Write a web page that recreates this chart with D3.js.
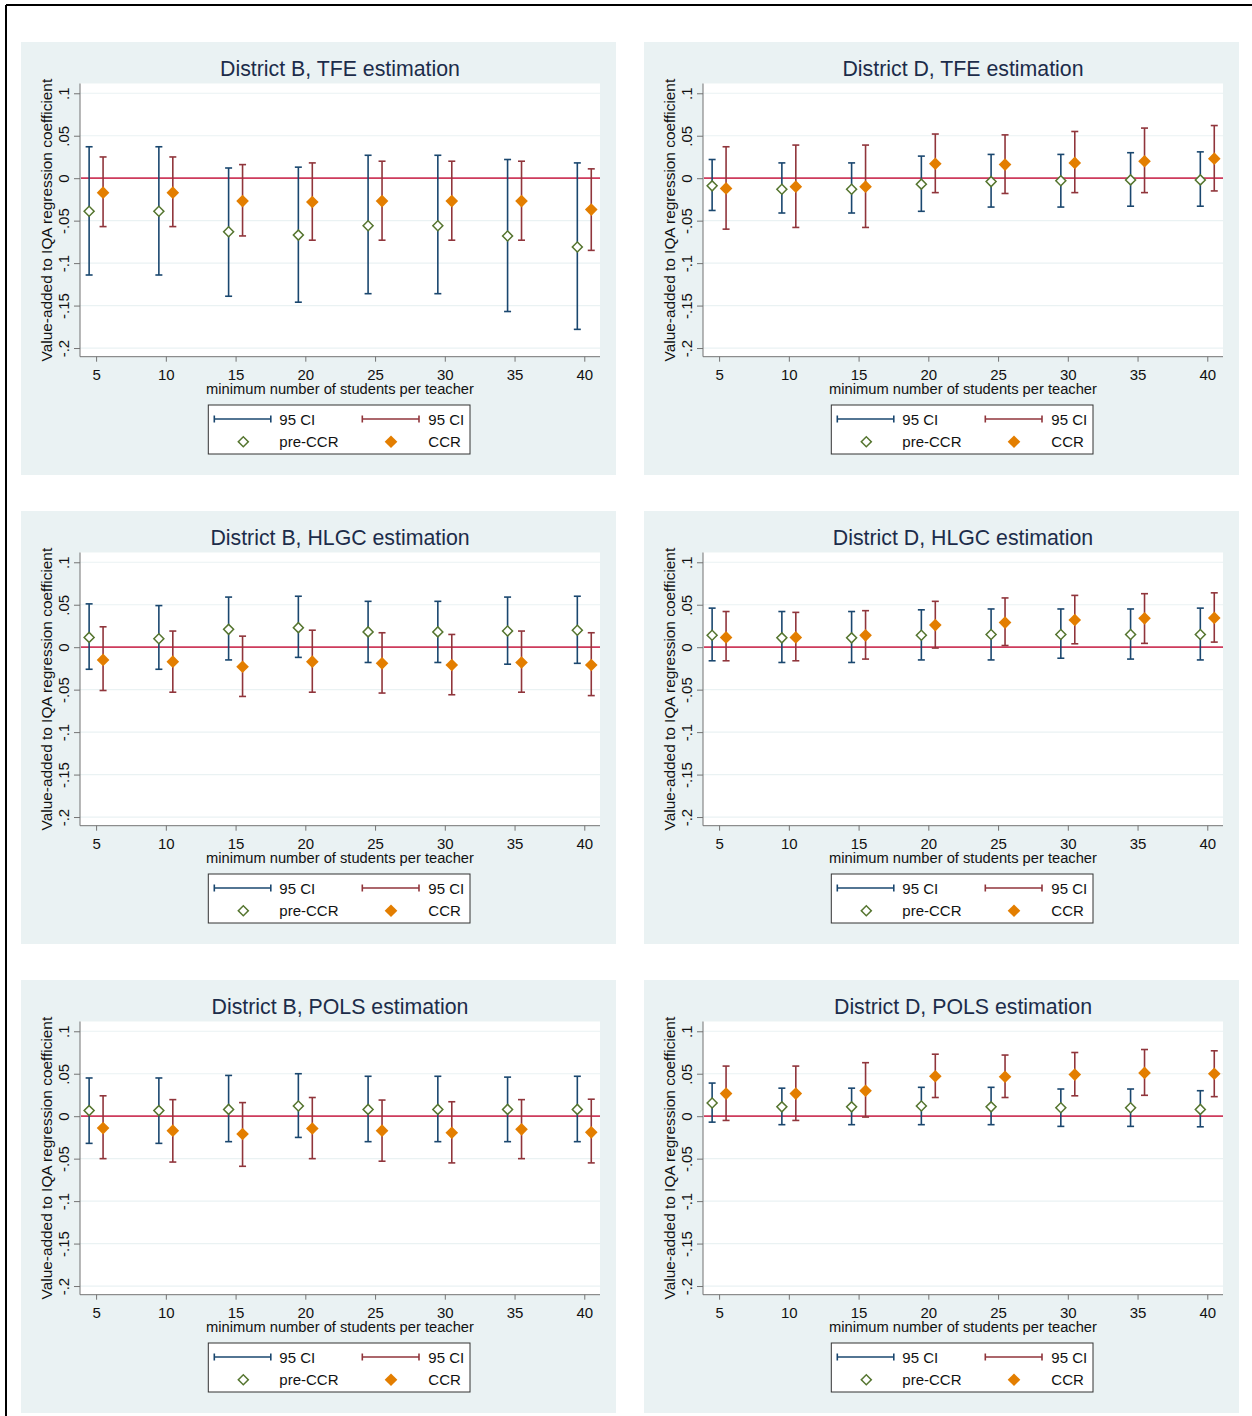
<!DOCTYPE html>
<html>
<head>
<meta charset="utf-8">
<script src="https://cdn.jsdelivr.net/npm/d3@7/dist/d3.min.js"></script>
<style>
	body { margin: 0; background: #ffffff; }
	svg { display: block; font-family: "Liberation Sans", Arial, sans-serif; }
</style>
</head>
<body>
<svg id="chart" width="1252" height="1416"></svg>
<script>
// x categories and axis ticks
var minStudents = [5, 10, 15, 20, 25, 30, 35, 40];
var yTickValues = [-0.2, -0.15, -0.1, -0.05, 0, 0.05, 0.1];
var yTickLabels = ["-.2", "-.15", "-.1", "-.05", "0", ".05", ".1"];

// District B, TFE
var bTfePreEst = [-0.039, -0.039, -0.063, -0.067, -0.056, -0.056, -0.068, -0.081];
var bTfePreLo  = [-0.114, -0.114, -0.139, -0.146, -0.136, -0.136, -0.157, -0.178];
var bTfePreHi  = [0.037, 0.037, 0.012, 0.013, 0.027, 0.027, 0.022, 0.018];
var bTfeCcrEst = [-0.017, -0.017, -0.027, -0.028, -0.027, -0.027, -0.027, -0.037];
var bTfeCcrLo  = [-0.057, -0.057, -0.068, -0.073, -0.073, -0.073, -0.073, -0.085];
var bTfeCcrHi  = [0.025, 0.025, 0.016, 0.018, 0.020, 0.020, 0.020, 0.011];

// District D, TFE
var dTfePreEst = [-0.009, -0.013, -0.013, -0.007, -0.004, -0.003, -0.002, -0.002];
var dTfePreLo  = [-0.038, -0.041, -0.041, -0.039, -0.034, -0.034, -0.033, -0.033];
var dTfePreHi  = [0.022, 0.018, 0.018, 0.026, 0.028, 0.028, 0.030, 0.031];
var dTfeCcrEst = [-0.012, -0.010, -0.010, 0.017, 0.016, 0.018, 0.020, 0.023];
var dTfeCcrLo  = [-0.060, -0.058, -0.058, -0.017, -0.018, -0.017, -0.017, -0.015];
var dTfeCcrHi  = [0.037, 0.039, 0.039, 0.052, 0.051, 0.055, 0.059, 0.062];

// District B, HLGC
var bHlgcPreEst = [0.0115, 0.010, 0.021, 0.023, 0.018, 0.018, 0.019, 0.020];
var bHlgcPreLo  = [-0.026, -0.026, -0.015, -0.012, -0.018, -0.018, -0.020, -0.019];
var bHlgcPreHi  = [0.051, 0.049, 0.059, 0.060, 0.054, 0.054, 0.059, 0.060];
var bHlgcCcrEst = [-0.015, -0.017, -0.023, -0.017, -0.019, -0.021, -0.018, -0.021];
var bHlgcCcrLo  = [-0.051, -0.053, -0.058, -0.053, -0.054, -0.056, -0.053, -0.057];
var bHlgcCcrHi  = [0.024, 0.019, 0.013, 0.020, 0.017, 0.015, 0.019, 0.017];

// District D, HLGC
var dHlgcPreEst = [0.014, 0.011, 0.011, 0.014, 0.015, 0.015, 0.015, 0.015];
var dHlgcPreLo  = [-0.016, -0.018, -0.018, -0.015, -0.015, -0.013, -0.014, -0.015];
var dHlgcPreHi  = [0.046, 0.042, 0.042, 0.044, 0.045, 0.045, 0.045, 0.046];
var dHlgcCcrEst = [0.0115, 0.0115, 0.014, 0.026, 0.029, 0.032, 0.034, 0.0345];
var dHlgcCcrLo  = [-0.016, -0.016, -0.014, -0.001, 0.002, 0.004, 0.0045, 0.006];
var dHlgcCcrHi  = [0.042, 0.041, 0.043, 0.054, 0.058, 0.061, 0.063, 0.064];

// District B, POLS
var bPolsPreEst = [0.0066, 0.0066, 0.008, 0.012, 0.008, 0.008, 0.008, 0.008];
var bPolsPreLo  = [-0.032, -0.032, -0.030, -0.025, -0.030, -0.030, -0.030, -0.030];
var bPolsPreHi  = [0.045, 0.045, 0.048, 0.050, 0.047, 0.047, 0.046, 0.047];
var bPolsCcrEst = [-0.014, -0.017, -0.021, -0.0145, -0.017, -0.0195, -0.0155, -0.019];
var bPolsCcrLo  = [-0.050, -0.054, -0.059, -0.050, -0.053, -0.055, -0.050, -0.055];
var bPolsCcrHi  = [0.024, 0.0195, 0.016, 0.022, 0.019, 0.017, 0.0195, 0.020];

// District D, POLS
var dPolsPreEst = [0.0156, 0.011, 0.011, 0.012, 0.011, 0.010, 0.010, 0.008];
var dPolsPreLo  = [-0.007, -0.010, -0.010, -0.010, -0.010, -0.012, -0.012, -0.0125];
var dPolsPreHi  = [0.039, 0.033, 0.033, 0.034, 0.034, 0.032, 0.032, 0.030];
var dPolsCcrEst = [0.0266, 0.0266, 0.030, 0.047, 0.0465, 0.049, 0.051, 0.050];
var dPolsCcrLo  = [-0.005, -0.005, -0.001, 0.022, 0.022, 0.024, 0.0246, 0.023];
var dPolsCcrHi  = [0.059, 0.059, 0.063, 0.073, 0.072, 0.075, 0.0785, 0.077];

var panels = [
	{title: "District B, TFE estimation", pre: [bTfePreEst, bTfePreLo, bTfePreHi], ccr: [bTfeCcrEst, bTfeCcrLo, bTfeCcrHi]},
	{title: "District D, TFE estimation", pre: [dTfePreEst, dTfePreLo, dTfePreHi], ccr: [dTfeCcrEst, dTfeCcrLo, dTfeCcrHi]},
	{title: "District B, HLGC estimation", pre: [bHlgcPreEst, bHlgcPreLo, bHlgcPreHi], ccr: [bHlgcCcrEst, bHlgcCcrLo, bHlgcCcrHi]},
	{title: "District D, HLGC estimation", pre: [dHlgcPreEst, dHlgcPreLo, dHlgcPreHi], ccr: [dHlgcCcrEst, dHlgcCcrLo, dHlgcCcrHi]},
	{title: "District B, POLS estimation", pre: [bPolsPreEst, bPolsPreLo, bPolsPreHi], ccr: [bPolsCcrEst, bPolsCcrLo, bPolsCcrHi]},
	{title: "District D, POLS estimation", pre: [dPolsPreEst, dPolsPreLo, dPolsPreHi], ccr: [dPolsCcrEst, dPolsCcrLo, dPolsCcrHi]}
];

var colors = {
	bg: "#eaf2f3",
	title: "#1c2c4a",
	axis: "#737373",
	navy: "#1a476f",
	maroon: "#90353b",
	green: "#55752f",
	orange: "#e37e00",
	zero: "#cf3b5c"
};

var svg = d3.select("#chart");
var panelW = 595, panelH = 433;
var colX = [21, 644], rowY = [42, 511, 980];
var plot = {left: 59, right: 579, top: 41.5, bottom: 314.7};

// outer frame (top and left edges are what shows in the picture)
svg.append("line").attr("x1", 6).attr("y1", 5).attr("x2", 1252).attr("y2", 5)
	.attr("stroke", "#000").attr("stroke-width", 2);
svg.append("line").attr("x1", 6).attr("y1", 5).attr("x2", 6).attr("y2", 1416)
	.attr("stroke", "#000").attr("stroke-width", 2);

var x = d3.scaleLinear().domain([3.846, 41.126]).range([plot.left, plot.right]);
var y = d3.scaleLinear().domain([-0.2102, 0.1115]).range([plot.bottom, plot.top]);

var diamond = function(size){
	return d3.symbol().type(d3.symbolSquare).size(size)();
};

var drawCI = function(g, est, lo, hi, offset, lineColor, markerFill, markerStroke, markerSize){
	var gg = g.append("g");
	minStudents.forEach(function(v, i){
		var cx = x(v + offset);
		gg.append("line")
			.attr("x1", cx).attr("x2", cx)
			.attr("y1", y(lo[i])).attr("y2", y(hi[i]))
			.attr("stroke", lineColor).attr("stroke-width", 1.6);
		[lo[i], hi[i]].forEach(function(c){
			gg.append("line")
				.attr("x1", cx - 3.5).attr("x2", cx + 3.5)
				.attr("y1", y(c)).attr("y2", y(c))
				.attr("stroke", lineColor).attr("stroke-width", 1.6);
		});
	});
	gg.selectAll("path.mk")
		.data(est)
		.enter().append("path")
		.attr("class", "mk")
		.attr("d", diamond(markerSize))
		.attr("transform", function(d, i){ return "translate(" + x(minStudents[i] + offset) + "," + y(d) + ") rotate(45)"; })
		.attr("fill", markerFill)
		.attr("stroke", markerStroke)
		.attr("stroke-width", markerStroke == "none" ? 0 : 1.5);
};

var drawPanel = function(panel, px, py){
	var g = svg.append("g").attr("transform", "translate(" + px + "," + py + ")");

	g.append("rect").attr("width", panelW).attr("height", panelH).attr("fill", colors.bg);
	g.append("rect")
		.attr("x", plot.left).attr("y", plot.top)
		.attr("width", plot.right - plot.left).attr("height", plot.bottom - plot.top)
		.attr("fill", "#fff");

	// gridlines
	g.selectAll("line.grid")
		.data(yTickValues)
		.enter().append("line")
		.attr("class", "grid")
		.attr("x1", plot.left).attr("x2", plot.right)
		.attr("y1", function(d){ return y(d); }).attr("y2", function(d){ return y(d); })
		.attr("stroke", colors.bg).attr("stroke-width", 1.2);

	// y axis
	var yAxis = d3.axisLeft(y).tickValues(yTickValues).tickSize(6).tickPadding(4)
		.tickFormat(function(d, i){ return yTickLabels[i]; });
	var gY = g.append("g").attr("transform", "translate(" + plot.left + ",0)").call(yAxis);
	gY.select(".domain").attr("stroke", colors.axis).attr("d", "M0," + plot.top + "V" + plot.bottom);
	gY.selectAll(".tick line").attr("stroke", colors.axis);
	gY.selectAll(".tick text")
		.attr("x", 0).attr("dy", null)
		.attr("transform", "translate(-17,0) rotate(-90)")
		.attr("text-anchor", "middle")
		.attr("dominant-baseline", "central")
		.attr("fill", "#111")
		.style("font-size", "15px")
		.style("font-family", "Liberation Sans, Arial, sans-serif");

	// x axis
	var xAxis = d3.axisBottom(x).tickValues(minStudents).tickSize(5).tickPadding(8).tickFormat(d3.format("d"));
	var gX = g.append("g").attr("transform", "translate(0," + plot.bottom + ")").call(xAxis);
	gX.select(".domain").attr("stroke", colors.axis).attr("d", "M" + plot.left + ",0H" + plot.right);
	gX.selectAll(".tick line").attr("stroke", colors.axis);
	gX.selectAll(".tick text")
		.attr("fill", "#111")
		.style("font-size", "15px")
		.style("font-family", "Liberation Sans, Arial, sans-serif");

	// zero reference line
	g.append("line")
		.attr("x1", plot.left + 1).attr("x2", plot.right)
		.attr("y1", y(0)).attr("y2", y(0))
		.attr("stroke", colors.zero).attr("stroke-width", 1.8);

	drawCI(g, panel.pre[0], panel.pre[1], panel.pre[2], -0.5, colors.navy, "#fff", colors.green, 50);
	drawCI(g, panel.ccr[0], panel.ccr[1], panel.ccr[2], 0.5, colors.maroon, colors.orange, "none", 80);

	// titles
	g.append("text")
		.attr("x", (plot.left + plot.right) / 2).attr("y", 34)
		.attr("text-anchor", "middle")
		.attr("fill", colors.title)
		.style("font-size", "21.3px")
		.text(panel.title);
	g.append("text")
		.attr("x", (plot.left + plot.right) / 2).attr("y", 352)
		.attr("text-anchor", "middle")
		.attr("fill", "#111")
		.style("font-size", "14.7px")
		.text("minimum number of students per teacher");
	g.append("text")
		.attr("transform", "translate(25.7," + (plot.top + plot.bottom) / 2 + ") rotate(-90)")
		.attr("text-anchor", "middle")
		.attr("dominant-baseline", "central")
		.attr("fill", "#111")
		.style("font-size", "15.4px")
		.text("Value-added to IQA regression coefficient");

	// legend
	var lg = g.append("g").attr("transform", "translate(187.3,363)");
	lg.append("rect").attr("width", 261.7).attr("height", 49)
		.attr("fill", "#fff").attr("stroke", "#333").attr("stroke-width", 1);
	var legendLine = function(x1, x2, ly, color){
		lg.append("line").attr("x1", x1).attr("x2", x2).attr("y1", ly).attr("y2", ly)
			.attr("stroke", color).attr("stroke-width", 1.6);
		[x1, x2].forEach(function(cx){
			lg.append("line").attr("x1", cx).attr("x2", cx).attr("y1", ly - 3.5).attr("y2", ly + 3.5)
				.attr("stroke", color).attr("stroke-width", 1.6);
		});
	};
	legendLine(6, 62.5, 14, colors.navy);
	legendLine(154, 210.7, 14, colors.maroon);
	lg.append("path").attr("d", diamond(50))
		.attr("transform", "translate(35,36.7) rotate(45)")
		.attr("fill", "#fff").attr("stroke", colors.green).attr("stroke-width", 1.5);
	lg.append("path").attr("d", diamond(80))
		.attr("transform", "translate(182.7,36.7) rotate(45)")
		.attr("fill", colors.orange);
	var legendText = [["95 CI", 71, 14], ["95 CI", 220, 14], ["pre-CCR", 71, 36.7], ["CCR", 220, 36.7]];
	lg.selectAll("text")
		.data(legendText)
		.enter().append("text")
		.attr("x", function(d){ return d[1]; })
		.attr("y", function(d){ return d[2]; })
		.attr("dominant-baseline", "central")
		.attr("fill", "#111")
		.style("font-size", "15px")
		.text(function(d){ return d[0]; });
};

panels.forEach(function(p, i){
	drawPanel(p, colX[i % 2], rowY[Math.floor(i / 2)]);
});
</script>
</body>
</html>
